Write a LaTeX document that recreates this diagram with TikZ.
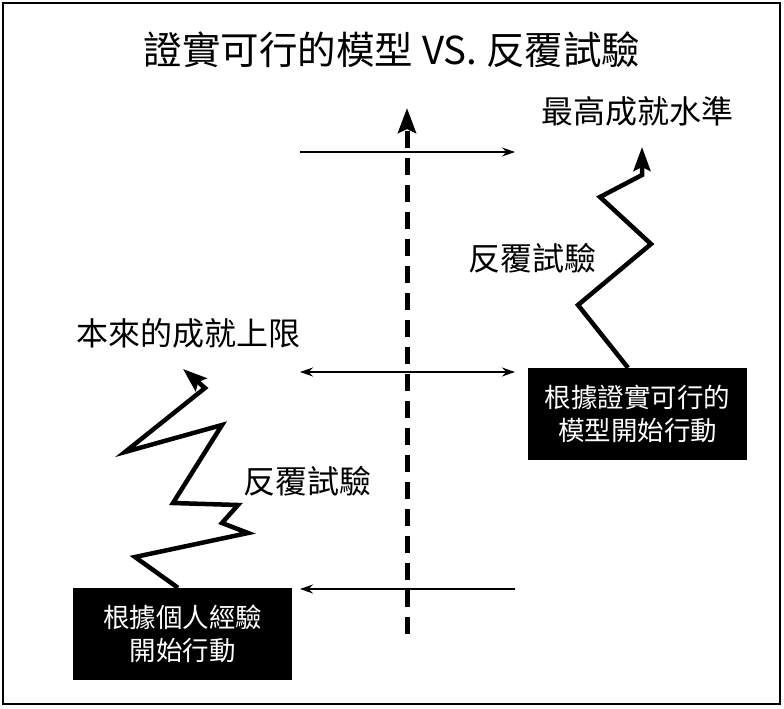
\documentclass[tikz,border=0pt]{standalone}
\usepackage{fontspec}
\usepackage{tikz}
\usetikzlibrary{arrows.meta}
\setmainfont{Noto Sans CJK TC}

\begin{document}
\begin{tikzpicture}[x=1pt,y=-1pt,
  box/.style={fill=black,text=white,align=center,inner sep=0pt,
    minimum width=219pt,minimum height=92pt,font=\fontsize{26.5}{33}\selectfont},
  lbl/.style={font=\fontsize{32}{36}\selectfont},
  zig/.style={line width=4.5pt,line join=miter,-{Stealth[length=24pt,width=17pt,inset=4pt]}},
  thin/.style={line width=1.4pt},
  ltip/.tip={Stealth[length=13pt,width=9pt]}]
\useasboundingbox (0,0) rectangle (784,709);
\draw[line width=1.5pt] (3,3) rectangle (780,704);
% title
\node[font=\fontsize{38.5}{42}\selectfont] (title) at (392,50) {證實可行的模型 VS. 反覆試驗};
% the two starting boxes
\node[box] (lbox) at (182.5,634) {根據個人經驗\\開始行動};
\node[box] (rbox) at (637.5,414) {根據證實可行的\\模型開始行動};
% dashed axis
\coordinate (axbot) at (407,634);
\coordinate (axtop) at (407,108);
\draw[line width=5pt,dash pattern=on 17pt off 10pt,-{Stealth[length=25pt,width=18pt,inset=4pt]}] (axbot) -- (axtop);
% level arrows
\coordinate (h1l) at (300,152); \coordinate (h1r) at (515,152);
\coordinate (h2l) at (300,372); \coordinate (h2r) at (515,372);
\coordinate (h3l) at (300,589); \coordinate (h3r) at (515,589);
\draw[thin,-ltip] (h1l) -- (h1r);
\draw[thin,ltip-ltip] (h2l) -- (h2r);
\draw[thin,-ltip] (h3r) -- (h3l);
% left zigzag, own experience
\coordinate (a1) at (135,557);
\coordinate (a2) at (248,533);
\coordinate (a3) at (222,523);
\coordinate (a4) at (238,505);
\coordinate (a5) at (173,503);
\coordinate (a6) at (222,425);
\coordinate (a7) at (125,452);
\coordinate (a8) at (205,388);
\coordinate (a9) at (183,369);
\draw[zig] ([xshift=-4.5pt]lbox.north) -- (a1) -- (a2) -- (a3) -- (a4) -- (a5)
  -- (a6) -- (a7) -- (a8) -- (a9);
% right zigzag, proven model
\coordinate (b1) at (578,305);
\coordinate (b2) at (651,244);
\coordinate (b3) at (600,197);
\coordinate (b4) at (642,175);
\coordinate (b5) at (642,147);
\draw[zig] ([xshift=-9.5pt]rbox.north) -- (b1) -- (b2) -- (b3) -- (b4) -- (b5);
% labels
\node[lbl] (top)   at (637,111) {最高成就水準};
\node[lbl] (rtry)  at (532,258) {反覆試驗};
\node[lbl] (limit) at (188,333) {本來的成就上限};
\node[lbl] (ltry)  at (307,481) {反覆試驗};
\end{tikzpicture}
\end{document}
